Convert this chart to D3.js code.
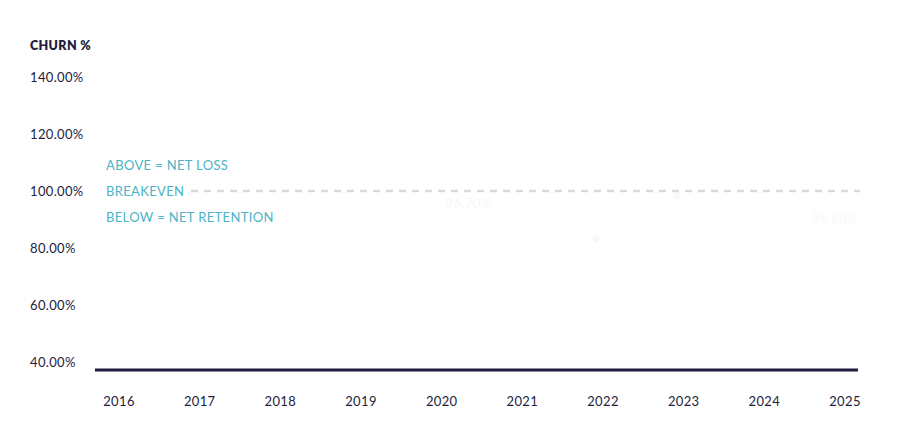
<!DOCTYPE html>
<html>
<head>
<meta charset="utf-8">
<script src="https://cdn.jsdelivr.net/npm/d3@7"></script>
<style>
  body { margin: 0; background: #fff; }
  svg { display: block; }
  text { font-family: "Lato", "Open Sans", sans-serif; letter-spacing: 0.35px; }
</style>
</head>
<body>
<svg id="chart" width="900" height="445"></svg>
<script>
const years = ["2016","2017","2018","2019","2020","2021","2022","2023","2024","2025"];
const churnYears = ["2020","2022","2023","2025"];
const churnValues = [96.7, 83.2, 98.2, 96.6];
const labelYears = ["2020","2025"];
const yTicks = [40, 60, 80, 100, 120, 140];
const breakeven = 100;
const annotations = ["ABOVE = NET LOSS", "BREAKEVEN", "BELOW = NET RETENTION"];

const svg = d3.select("#chart");
const navy = "#221d40";
const teal = "#4cb3c7";

const x = d3.scalePoint().domain(years).range([119, 845]);
const y = d3.scaleLinear().domain([40, 140]).range([362, 77]);

// title
svg.append("text").attr("x", 30).attr("y", 50)
  .attr("font-size", 12.5).attr("font-weight", 800).attr("fill", navy)
  .text("CHURN %");

// y tick labels
svg.append("g").selectAll("text").data(yTicks).join("text")
  .attr("x", 30).attr("y", d => y(d)).attr("dy", "0.35em")
  .attr("font-size", 13).attr("fill", navy)
  .text(d => d3.format(".2f")(d) + "%");

// x tick labels
svg.append("g").selectAll("text").data(years).join("text")
  .attr("x", d => x(d)).attr("y", 401).attr("dy", "0.35em")
  .attr("text-anchor", "middle")
  .attr("font-size", 13).attr("fill", navy)
  .text(d => d);

// breakeven dashed line
svg.append("line")
  .attr("x1", 191).attr("x2", 860)
  .attr("y1", y(breakeven)).attr("y2", y(breakeven))
  .attr("stroke", "#d9d9d9").attr("stroke-width", 2.5)
  .attr("stroke-dasharray", "7,6");

// annotations
svg.append("g").selectAll("text").data(annotations).join("text")
  .attr("x", 106)
  .attr("y", (d, i) => y(breakeven) + (i - 1) * 26)
  .attr("dy", "0.35em")
  .attr("font-size", 13).attr("fill", teal)
  .text(d => d);

// faint points (mid-fade state in reference)
const pts = churnYears.map((yr, i) => ({ yr, v: churnValues[i] }));
svg.append("g").selectAll("circle").data(pts.filter(d => d.yr === "2022" || d.yr === "2023")).join("circle")
  .attr("cx", d => x(d.yr) - 7).attr("cy", d => y(d.v))
  .attr("r", 3.5).attr("fill", "#f8f8f8");

svg.append("g").selectAll("text").data(pts.filter(d => labelYears.includes(d.yr))).join("text")
  .attr("x", d => x(d.yr) + (d.yr === "2020" ? 27 : -10))
  .attr("y", d => y(d.v) + (d.yr === "2020" ? 3 : 18))
  .attr("dy", "0.35em")
  .attr("text-anchor", "middle")
  .attr("font-size", 13).attr("fill", "#f8f8f8")
  .text(d => d3.format(".2f")(d.v) + "%");

// baseline
svg.append("line")
  .attr("x1", 95).attr("x2", 858)
  .attr("y1", 370).attr("y2", 370)
  .attr("stroke", navy).attr("stroke-width", 3);
</script>
</body>
</html>
